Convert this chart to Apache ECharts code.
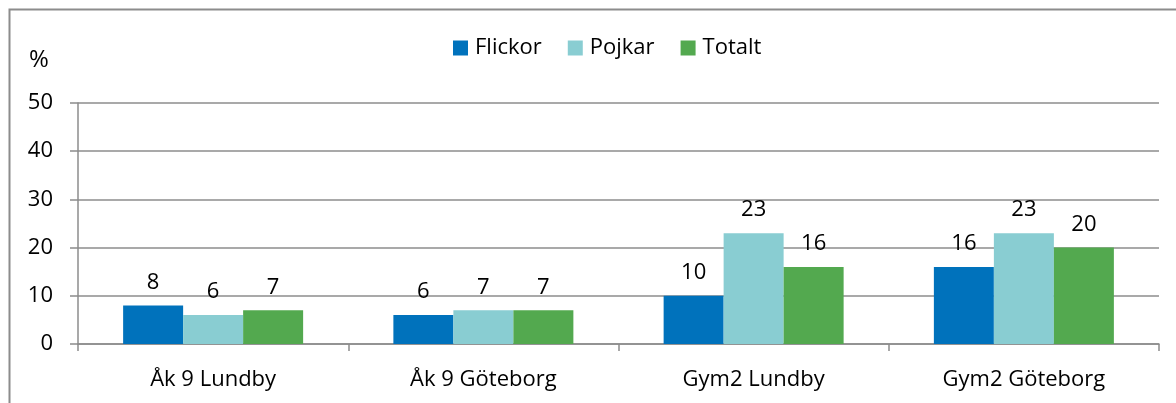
<!DOCTYPE html>
<html>
<head>
<meta charset="utf-8">
<script src="https://cdn.jsdelivr.net/npm/echarts@6/dist/echarts.min.js"></script>
<style>
  html, body { margin: 0; padding: 0; background: #fff; }
  #chart { width: 1176px; height: 403px; }
</style>
</head>
<body>
<div id="chart"></div>
<script>
// data
var categories = ["Åk 9 Lundby", "Åk 9 Göteborg", "Gym2 Lundby", "Gym2 Göteborg"];
var flickor = [8, 6, 10, 16];
var pojkar = [6, 7, 23, 23];
var totalt = [7, 7, 16, 20];
var yTicks = [0, 10, 20, 30, 40, 50];

var font = "Open Sans";
var fs = 22;
var chart = echarts.init(document.getElementById("chart"));

function bar(name, data, color) {
    return {
        name: name,
        type: "bar",
        data: data,
        barWidth: 60,
        barGap: "0%",
        itemStyle: { color: color },
        label: {
            show: true,
            position: "top",
            distance: 12,
            color: "#000",
            fontFamily: font,
            fontSize: fs
        }
    };
}

var option = {
    animation: false,
    backgroundColor: "#fff",
    textStyle: { fontFamily: font },
    legend: {
        top: 32,
        left: 448,
        itemWidth: 15,
        itemHeight: 15,
        itemGap: 26,
        icon: "rect",
        textStyle: { fontFamily: font, fontSize: fs, color: "#000", padding: [0, 0, 0, 2] },
        data: ["Flickor", "Pojkar", "Totalt"]
    },
    grid: { left: 78, right: 17, top: 103, bottom: 59, containLabel: false },
    xAxis: {
        type: "category",
        data: categories,
        axisLine: { lineStyle: { color: "#8c8c8c", width: 1.5 } },
        axisTick: { show: true, length: 7, lineStyle: { color: "#8c8c8c", width: 1.5 } },
        axisLabel: { color: "#000", fontFamily: font, fontSize: fs, margin: 25 }
    },
    yAxis: {
        type: "value",
        min: yTicks[0],
        max: yTicks[yTicks.length - 1],
        interval: 10,
        axisLine: { show: true, lineStyle: { color: "#8c8c8c", width: 1.5 } },
        axisTick: { show: true, length: 8, lineStyle: { color: "#8c8c8c", width: 1.5 } },
        splitLine: { lineStyle: { color: "#8c8c8c", width: 1.5 } },
        axisLabel: { color: "#000", fontFamily: font, fontSize: fs, margin: 25 }
    },
    graphic: [
        {
            type: "rect",
            shape: { x: 9.5, y: 9.5, width: 1200, height: 450 },
            style: { fill: null, stroke: "#8c8c8c", lineWidth: 2 },
            silent: true
        },
        {
            type: "text",
            left: 29,
            top: 48,
            style: { text: "%", fill: "#000", fontFamily: font, fontSize: 24 }
        }
    ],
    series: [
        bar("Flickor", flickor, "#0072bc"),
        bar("Pojkar", pojkar, "#89cdd2"),
        bar("Totalt", totalt, "#53a94f")
    ]
};

chart.setOption(option);
window.addEventListener("resize", function () { chart.resize(); });
</script>
</body>
</html>
